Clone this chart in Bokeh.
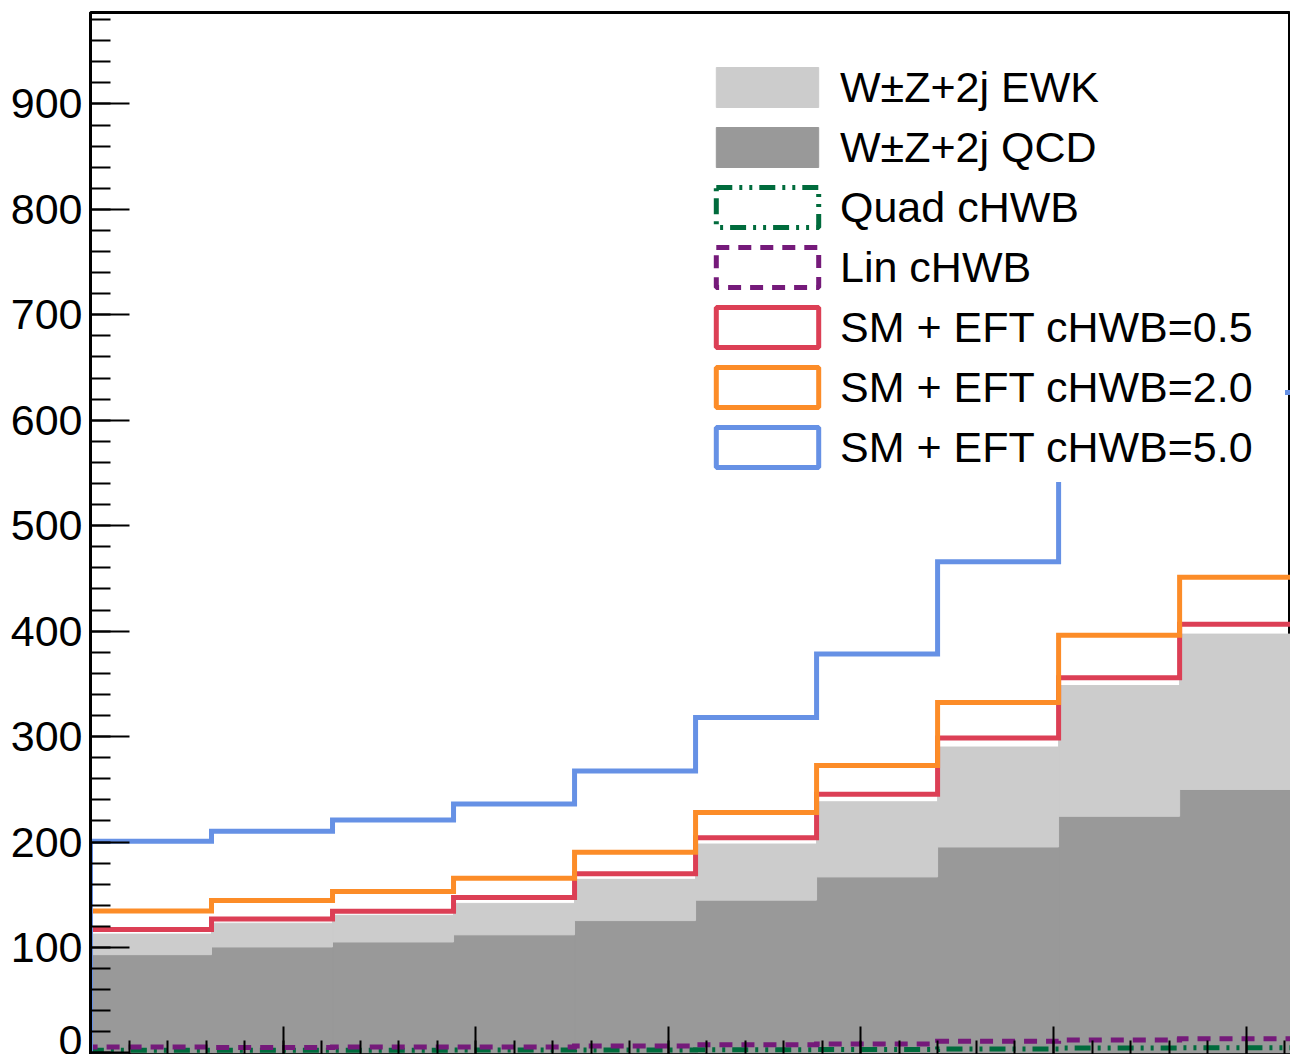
import numpy as np
from bokeh.plotting import figure
from bokeh.models import (ColumnDataSource, Legend, LegendItem, SingleIntervalTicker,
                          Range1d, CustomJSTickFormatter)
from bokeh.embed import file_html
from bokeh.resources import INLINE

# ---------------- data ----------------
n_bins = 10
x_min, x_max = 0.0, np.pi
qcd = [93.2, 100.5, 105.2, 112.0, 125.5, 144.9, 166.9, 195.3, 224.4, 249.8]
ewk = [19.5, 22.5, 25.3, 29.8, 39.1, 53.2, 71.3, 94.8, 124.0, 147.4]
quad_chwb = [2.5, 2.5, 2.6, 2.7, 2.8, 3.1, 3.2, 3.8, 4.6, 4.8]
lin_chwb = [5.6, 5.2, 5.6, 5.7, 6.6, 7.8, 8.5, 11.0, 12.2, 13.4]
sm_eft_05 = [117.1, 127.0, 134.3, 147.4, 170.0, 204.0, 245.4, 298.6, 355.9, 406.6]
sm_eft_20 = [134.6, 144.6, 153.1, 165.6, 190.4, 228.0, 272.6, 332.4, 396.2, 451.0]
sm_eft_50 = [200.7, 210.3, 220.9, 236.0, 267.3, 318.0, 378.4, 465.7, 565.0, 626.3]

labels = ["W\u00b1Z+2j EWK", "W\u00b1Z+2j QCD", "Quad cHWB", "Lin cHWB",
          "SM + EFT cHWB=0.5", "SM + EFT cHWB=2.0", "SM + EFT cHWB=5.0"]

edges = np.linspace(x_min, x_max, n_bins + 1)

# ---------------- styles ----------------
C_EWK = "#cccccc"
C_QCD = "#999999"
C_GREEN = "#006b3c"
C_PURPLE = "#751a7a"
C_RED = "#dc3f55"
C_ORANGE = "#fc8c28"
C_BLUE = "#6691e5"
FONT = "Liberation Sans"

p = figure(width=1290, height=1054, output_backend="svg", toolbar_location=None,
           x_range=Range1d(0.0, 3.1153), y_range=Range1d(-1.5, 986.7),
           min_border_left=90, min_border_right=0, min_border_top=12, min_border_bottom=0)

p.background_fill_color = "white"
p.border_fill_color = "white"
p.outline_line_color = "black"
p.outline_line_width = 3
p.xgrid.visible = False
p.ygrid.visible = False

# stacked histograms
src = ColumnDataSource(dict(
    left=edges[:-1], right=edges[1:],
    qcd=qcd, tot=list(np.array(qcd) + np.array(ewk))))
r_qcd = p.quad(left="left", right="right", bottom=0, top="qcd", source=src,
               fill_color=C_QCD, line_color=C_QCD, line_width=1)
r_ewk = p.quad(left="left", right="right", bottom="qcd", top="tot", source=src,
               fill_color=C_EWK, line_color=C_EWK, line_width=1)


def step_xy(vals):
    xs = [edges[0]]
    ys = [0.0]
    for i, v in enumerate(vals):
        xs += [edges[i], edges[i + 1]]
        ys += [v, v]
    xs.append(edges[-1])
    ys.append(0.0)
    return xs, ys


line_specs = [
    (quad_chwb, C_GREEN, "16 7 3 7 3 7", 5),
    (lin_chwb, C_PURPLE, "13 9", 5),
    (sm_eft_05, C_RED, "solid", 5),
    (sm_eft_20, C_ORANGE, "solid", 5),
    (sm_eft_50, C_BLUE, "solid", 5),
]
proxies = []
for vals, col, dash, lw in line_specs:
    xs, ys = step_xy(vals)
    p.line(xs, ys, line_color=col, line_width=lw, line_dash=dash, line_join="miter")
    # legend proxy (box outline in the legend, nothing drawn in the plot)
    proxies.append(p.quad(left=[np.nan], right=[np.nan], top=[np.nan], bottom=[np.nan],
                          fill_alpha=0, line_color=col, line_width=lw, line_dash=dash))

items = [LegendItem(label=labels[0], renderers=[r_ewk], index=0),
         LegendItem(label=labels[1], renderers=[r_qcd], index=0)]
for lab, r in zip(labels[2:], proxies):
    items.append(LegendItem(label=lab, renderers=[r], index=0))

legend = Legend(items=items, location=(603, 572), orientation="vertical",
                glyph_width=128, glyph_height=50, label_height=50, label_width=435,
                label_standoff=9, spacing=10, padding=10, margin=0,
                label_text_font=FONT, label_text_font_size="43px",
                label_text_color="black",
                background_fill_color="white", background_fill_alpha=1.0,
                border_line_alpha=0)
p.add_layout(legend, "center")

# axes
p.yaxis.ticker = SingleIntervalTicker(interval=100, num_minor_ticks=5)
p.yaxis.major_tick_in = 39
p.yaxis.major_tick_out = 0
p.yaxis.minor_tick_in = 20
p.yaxis.minor_tick_out = 0
p.yaxis.major_tick_line_width = 2
p.yaxis.minor_tick_line_width = 2
p.yaxis.axis_line_width = 3
p.yaxis.axis_line_color = "black"
p.yaxis.major_tick_line_color = "black"
p.yaxis.minor_tick_line_color = "black"
p.yaxis.major_label_text_font = FONT
p.yaxis.major_label_text_font_size = "43px"
p.yaxis.major_label_text_color = "black"
p.yaxis.major_label_standoff = 8

p.xaxis.ticker = SingleIntervalTicker(interval=0.5, num_minor_ticks=5)
p.xaxis.major_tick_in = 28
p.xaxis.major_tick_out = 0
p.xaxis.minor_tick_in = 14
p.xaxis.minor_tick_out = 0
p.xaxis.major_tick_line_width = 2
p.xaxis.minor_tick_line_width = 2
p.xaxis.axis_line_width = 2
p.xaxis.axis_line_color = "black"
p.xaxis.major_tick_line_color = "black"
p.xaxis.minor_tick_line_color = "black"
# x tick labels lie below the visible area in the reference
p.xaxis.formatter = CustomJSTickFormatter(code="return ''")
p.xaxis.major_label_text_font_size = "0px"
p.xaxis.major_label_standoff = 0

open("out.html", "w").write(file_html(p, INLINE))
